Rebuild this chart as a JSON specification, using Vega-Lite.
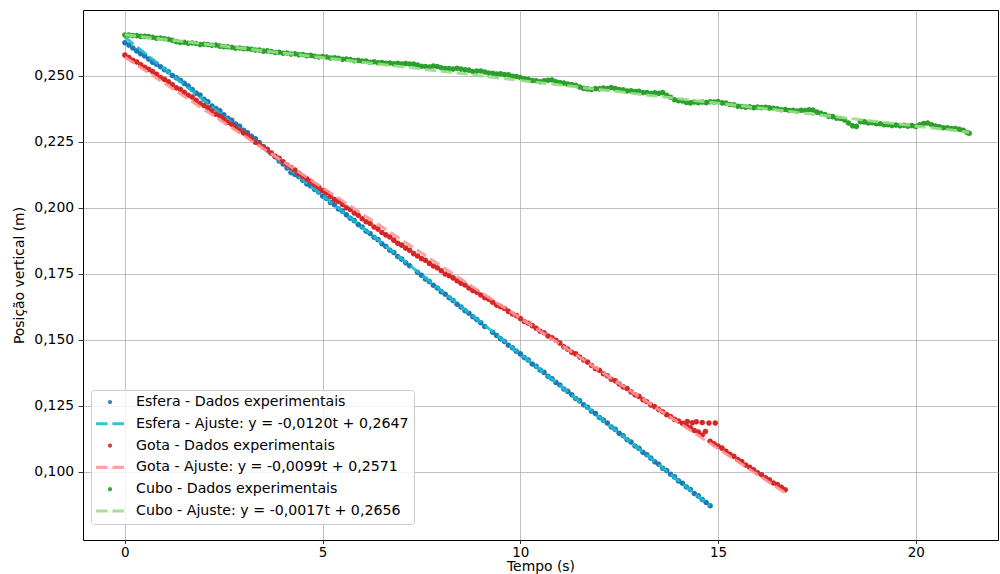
{
"$schema":"https://vega.github.io/schema/vega-lite/v6.json",
"width":915,"height":530,"autosize":"none",
"padding":{"left":83,"top":10,"right":2,"bottom":34},
"background":"white",
"config":{"view":{"stroke":"#000","strokeWidth":1},"font":"DejaVu Sans",
"axis":{"grid":true,"gridColor":"#b0b0b0","gridWidth":0.8,"domain":false,"tickColor":"#000","tickWidth":0.8,"tickSize":4.9,"labelPadding":4.5,"labelFont":"DejaVu Sans","labelFontSize":13.9,"labelColor":"#000","titleFont":"DejaVu Sans","titleFontSize":13.9,"titleFontWeight":"normal","titleColor":"#000"}},
"datasets":{
"esfera":[{"t":0,"y":0.2626},{"t":0.1,"y":0.2617},{"t":0.2,"y":0.2606},{"t":0.3,"y":0.2595},{"t":0.4,"y":0.2584},{"t":0.5,"y":0.2576},{"t":0.6,"y":0.2564},{"t":0.7,"y":0.2552},{"t":0.8,"y":0.2544},{"t":0.9,"y":0.2535},{"t":1.0,"y":0.2524},{"t":1.1,"y":0.2516},{"t":1.2,"y":0.2502},{"t":1.3,"y":0.2493},{"t":1.4,"y":0.2484},{"t":1.5,"y":0.2472},{"t":1.6,"y":0.2462},{"t":1.7,"y":0.2449},{"t":1.8,"y":0.2435},{"t":1.9,"y":0.2428},{"t":2.0,"y":0.2412},{"t":2.1,"y":0.2402},{"t":2.2,"y":0.2386},{"t":2.3,"y":0.2377},{"t":2.4,"y":0.2368},{"t":2.5,"y":0.2353},{"t":2.6,"y":0.2340},{"t":2.7,"y":0.2332},{"t":2.8,"y":0.2318},{"t":2.9,"y":0.2309},{"t":3.0,"y":0.2294},{"t":3.1,"y":0.2285},{"t":3.2,"y":0.2271},{"t":3.3,"y":0.2262},{"t":3.4,"y":0.2248},{"t":3.5,"y":0.2233},{"t":3.6,"y":0.2222},{"t":3.7,"y":0.2207},{"t":3.8,"y":0.2194},{"t":3.9,"y":0.2178},{"t":4.0,"y":0.2167},{"t":4.1,"y":0.2151},{"t":4.2,"y":0.2134},{"t":4.3,"y":0.2127},{"t":4.4,"y":0.2118},{"t":4.5,"y":0.2105},{"t":4.6,"y":0.2091},{"t":4.7,"y":0.2083},{"t":4.8,"y":0.2070},{"t":4.9,"y":0.2060},{"t":5.0,"y":0.2045},{"t":5.1,"y":0.2036},{"t":5.2,"y":0.2021},{"t":5.3,"y":0.2012},{"t":5.4,"y":0.1996},{"t":5.5,"y":0.1988},{"t":5.6,"y":0.1974},{"t":5.7,"y":0.1961},{"t":5.8,"y":0.1952},{"t":5.9,"y":0.1937},{"t":6.0,"y":0.1928},{"t":6.1,"y":0.1912},{"t":6.2,"y":0.1903},{"t":6.3,"y":0.1889},{"t":6.4,"y":0.1880},{"t":6.5,"y":0.1864},{"t":6.6,"y":0.1854},{"t":6.7,"y":0.1840},{"t":6.8,"y":0.1831},{"t":6.9,"y":0.1816},{"t":7.0,"y":0.1806},{"t":7.1,"y":0.1792},{"t":7.2,"y":0.1781},{"t":7.4,"y":0.1756},{"t":7.5,"y":0.1745},{"t":7.6,"y":0.1731},{"t":7.7,"y":0.1721},{"t":7.8,"y":0.1707},{"t":7.9,"y":0.1697},{"t":8.0,"y":0.1683},{"t":8.1,"y":0.1673},{"t":8.2,"y":0.1660},{"t":8.3,"y":0.1649},{"t":8.4,"y":0.1635},{"t":8.5,"y":0.1625},{"t":8.6,"y":0.1611},{"t":8.7,"y":0.1601},{"t":8.8,"y":0.1588},{"t":8.9,"y":0.1577},{"t":9.0,"y":0.1565},{"t":9.1,"y":0.1551},{"t":9.3,"y":0.1529},{"t":9.4,"y":0.1517},{"t":9.5,"y":0.1504},{"t":9.6,"y":0.1494},{"t":9.7,"y":0.1480},{"t":9.8,"y":0.1470},{"t":9.9,"y":0.1457},{"t":10.0,"y":0.1447},{"t":10.1,"y":0.1433},{"t":10.2,"y":0.1424},{"t":10.3,"y":0.1409},{"t":10.4,"y":0.1400},{"t":10.5,"y":0.1386},{"t":10.6,"y":0.1377},{"t":10.7,"y":0.1362},{"t":10.8,"y":0.1353},{"t":10.9,"y":0.1339},{"t":11.0,"y":0.1329},{"t":11.1,"y":0.1314},{"t":11.2,"y":0.1305},{"t":11.3,"y":0.1292},{"t":11.4,"y":0.1278},{"t":11.5,"y":0.1269},{"t":11.6,"y":0.1254},{"t":11.7,"y":0.1245},{"t":11.8,"y":0.1230},{"t":11.9,"y":0.1221},{"t":12.0,"y":0.1206},{"t":12.1,"y":0.1196},{"t":12.2,"y":0.1185},{"t":12.3,"y":0.1170},{"t":12.4,"y":0.1161},{"t":12.5,"y":0.1146},{"t":12.6,"y":0.1137},{"t":12.7,"y":0.1122},{"t":12.8,"y":0.1113},{"t":12.9,"y":0.1098},{"t":13.0,"y":0.1089},{"t":13.1,"y":0.1074},{"t":13.2,"y":0.1065},{"t":13.3,"y":0.1052},{"t":13.4,"y":0.1038},{"t":13.5,"y":0.1029},{"t":13.6,"y":0.1014},{"t":13.7,"y":0.1005},{"t":13.8,"y":0.0991},{"t":13.9,"y":0.0981},{"t":14.0,"y":0.0966},{"t":14.1,"y":0.0957},{"t":14.2,"y":0.0943},{"t":14.3,"y":0.0933},{"t":14.4,"y":0.0918},{"t":14.5,"y":0.0909},{"t":14.6,"y":0.0895},{"t":14.7,"y":0.0884},{"t":14.8,"y":0.0872}],
"gota":[{"t":0,"y":0.2579},{"t":0.1,"y":0.2570},{"t":0.2,"y":0.2559},{"t":0.3,"y":0.2553},{"t":0.4,"y":0.2542},{"t":0.5,"y":0.2533},{"t":0.6,"y":0.2525},{"t":0.7,"y":0.2517},{"t":0.8,"y":0.2506},{"t":0.9,"y":0.2494},{"t":1.0,"y":0.2487},{"t":1.1,"y":0.2478},{"t":1.2,"y":0.2467},{"t":1.3,"y":0.2455},{"t":1.4,"y":0.2450},{"t":1.5,"y":0.2438},{"t":1.6,"y":0.2427},{"t":1.7,"y":0.2420},{"t":1.8,"y":0.2408},{"t":1.9,"y":0.2396},{"t":2.0,"y":0.2388},{"t":2.1,"y":0.2379},{"t":2.2,"y":0.2367},{"t":2.3,"y":0.2355},{"t":2.4,"y":0.2348},{"t":2.5,"y":0.2336},{"t":2.6,"y":0.2324},{"t":2.7,"y":0.2317},{"t":2.8,"y":0.2305},{"t":2.9,"y":0.2293},{"t":3.0,"y":0.2284},{"t":3.1,"y":0.2275},{"t":3.2,"y":0.2262},{"t":3.3,"y":0.2249},{"t":3.4,"y":0.2241},{"t":3.5,"y":0.2230},{"t":3.6,"y":0.2221},{"t":3.7,"y":0.2208},{"t":3.8,"y":0.2196},{"t":3.9,"y":0.2188},{"t":4.0,"y":0.2175},{"t":4.1,"y":0.2163},{"t":4.2,"y":0.2153},{"t":4.3,"y":0.2144},{"t":4.4,"y":0.2131},{"t":4.5,"y":0.2119},{"t":4.6,"y":0.2110},{"t":4.7,"y":0.2101},{"t":4.8,"y":0.2088},{"t":4.9,"y":0.2078},{"t":5.0,"y":0.2066},{"t":5.1,"y":0.2057},{"t":5.2,"y":0.2044},{"t":5.3,"y":0.2032},{"t":5.4,"y":0.2025},{"t":5.5,"y":0.2013},{"t":5.6,"y":0.2001},{"t":5.7,"y":0.1994},{"t":5.8,"y":0.1981},{"t":5.9,"y":0.1972},{"t":6.0,"y":0.1959},{"t":6.1,"y":0.1948},{"t":6.2,"y":0.1941},{"t":6.3,"y":0.1928},{"t":6.4,"y":0.1920},{"t":6.5,"y":0.1907},{"t":6.6,"y":0.1898},{"t":6.7,"y":0.1890},{"t":6.8,"y":0.1878},{"t":6.9,"y":0.1866},{"t":7.0,"y":0.1859},{"t":7.1,"y":0.1848},{"t":7.2,"y":0.1840},{"t":7.3,"y":0.1827},{"t":7.4,"y":0.1818},{"t":7.5,"y":0.1808},{"t":7.6,"y":0.1802},{"t":7.7,"y":0.1790},{"t":7.8,"y":0.1780},{"t":7.9,"y":0.1773},{"t":8.0,"y":0.1762},{"t":8.1,"y":0.1750},{"t":8.2,"y":0.1743},{"t":8.3,"y":0.1735},{"t":8.4,"y":0.1724},{"t":8.5,"y":0.1715},{"t":8.6,"y":0.1708},{"t":8.7,"y":0.1697},{"t":8.8,"y":0.1687},{"t":8.9,"y":0.1681},{"t":9.0,"y":0.1670},{"t":9.1,"y":0.1660},{"t":9.2,"y":0.1654},{"t":9.3,"y":0.1643},{"t":9.4,"y":0.1632},{"t":9.5,"y":0.1626},{"t":9.6,"y":0.1619},{"t":9.7,"y":0.1608},{"t":9.8,"y":0.1598},{"t":9.9,"y":0.1592},{"t":10.0,"y":0.1581},{"t":10.1,"y":0.1570},{"t":10.2,"y":0.1563},{"t":10.3,"y":0.1554},{"t":10.4,"y":0.1544},{"t":10.5,"y":0.1533},{"t":10.6,"y":0.1527},{"t":10.7,"y":0.1515},{"t":10.8,"y":0.1508},{"t":10.9,"y":0.1499},{"t":11.0,"y":0.1488},{"t":11.1,"y":0.1474},{"t":11.2,"y":0.1465},{"t":11.3,"y":0.1453},{"t":11.4,"y":0.1447},{"t":11.5,"y":0.1435},{"t":11.6,"y":0.1424},{"t":11.7,"y":0.1416},{"t":11.8,"y":0.1403},{"t":11.9,"y":0.1391},{"t":12.0,"y":0.1385},{"t":12.1,"y":0.1372},{"t":12.2,"y":0.1364},{"t":12.3,"y":0.1351},{"t":12.4,"y":0.1345},{"t":12.5,"y":0.1333},{"t":12.6,"y":0.1322},{"t":12.7,"y":0.1316},{"t":12.8,"y":0.1303},{"t":12.9,"y":0.1292},{"t":13.0,"y":0.1286},{"t":13.1,"y":0.1273},{"t":13.2,"y":0.1266},{"t":13.3,"y":0.1253},{"t":13.4,"y":0.1247},{"t":13.5,"y":0.1236},{"t":13.6,"y":0.1228},{"t":13.7,"y":0.1217},{"t":13.8,"y":0.1210},{"t":13.9,"y":0.1199},{"t":14.0,"y":0.1193},{"t":14.1,"y":0.1184},{"t":14.2,"y":0.1175},{"t":14.3,"y":0.1167},{"t":14.4,"y":0.1157},{"t":14.5,"y":0.1151},{"t":14.6,"y":0.1140},{"t":14.8,"y":0.1116},{"t":14.9,"y":0.1106},{"t":15.0,"y":0.1098},{"t":15.1,"y":0.1090},{"t":15.2,"y":0.1078},{"t":15.3,"y":0.1067},{"t":15.4,"y":0.1059},{"t":15.5,"y":0.1047},{"t":15.6,"y":0.1039},{"t":15.7,"y":0.1026},{"t":15.8,"y":0.1017},{"t":15.9,"y":0.1008},{"t":16.0,"y":0.0997},{"t":16.1,"y":0.0989},{"t":16.2,"y":0.0978},{"t":16.3,"y":0.0970},{"t":16.4,"y":0.0958},{"t":16.5,"y":0.0952},{"t":16.6,"y":0.0942},{"t":16.7,"y":0.0932},{"t":14.22,"y":0.1191},{"t":14.35,"y":0.1186},{"t":14.45,"y":0.1190},{"t":14.6,"y":0.1187},{"t":14.68,"y":0.1153},{"t":14.77,"y":0.1185},{"t":14.93,"y":0.1185}],
"cubo":[{"t":0,"y":0.2655},{"t":0.1,"y":0.2655},{"t":0.2,"y":0.2653},{"t":0.3,"y":0.2653},{"t":0.4,"y":0.2650},{"t":0.5,"y":0.2650},{"t":0.6,"y":0.2649},{"t":0.7,"y":0.2647},{"t":0.8,"y":0.2643},{"t":0.9,"y":0.2644},{"t":1.0,"y":0.2641},{"t":1.1,"y":0.2639},{"t":1.2,"y":0.2635},{"t":1.3,"y":0.2630},{"t":1.4,"y":0.2627},{"t":1.5,"y":0.2628},{"t":1.6,"y":0.2624},{"t":1.7,"y":0.2625},{"t":1.8,"y":0.2623},{"t":1.9,"y":0.2619},{"t":2.0,"y":0.2620},{"t":2.1,"y":0.2619},{"t":2.2,"y":0.2616},{"t":2.3,"y":0.2617},{"t":2.4,"y":0.2613},{"t":2.5,"y":0.2611},{"t":2.6,"y":0.2611},{"t":2.7,"y":0.2609},{"t":2.8,"y":0.2605},{"t":2.9,"y":0.2606},{"t":3.0,"y":0.2603},{"t":3.1,"y":0.2603},{"t":3.2,"y":0.2601},{"t":3.3,"y":0.2598},{"t":3.4,"y":0.2598},{"t":3.5,"y":0.2594},{"t":3.6,"y":0.2595},{"t":3.7,"y":0.2593},{"t":3.8,"y":0.2589},{"t":3.9,"y":0.2590},{"t":4.0,"y":0.2586},{"t":4.1,"y":0.2587},{"t":4.2,"y":0.2583},{"t":4.3,"y":0.2584},{"t":4.4,"y":0.2580},{"t":4.5,"y":0.2581},{"t":4.6,"y":0.2577},{"t":4.7,"y":0.2578},{"t":4.8,"y":0.2575},{"t":4.9,"y":0.2572},{"t":5.0,"y":0.2574},{"t":5.1,"y":0.2572},{"t":5.2,"y":0.2568},{"t":5.3,"y":0.2569},{"t":5.4,"y":0.2567},{"t":5.5,"y":0.2563},{"t":5.6,"y":0.2564},{"t":5.7,"y":0.2562},{"t":5.8,"y":0.2558},{"t":5.9,"y":0.2559},{"t":6.0,"y":0.2557},{"t":6.1,"y":0.2557},{"t":6.2,"y":0.2552},{"t":6.3,"y":0.2554},{"t":6.4,"y":0.2550},{"t":6.5,"y":0.2551},{"t":6.6,"y":0.2548},{"t":6.7,"y":0.2549},{"t":6.8,"y":0.2546},{"t":6.9,"y":0.2548},{"t":7.0,"y":0.2545},{"t":7.1,"y":0.2547},{"t":7.2,"y":0.2545},{"t":7.3,"y":0.2545},{"t":7.4,"y":0.2541},{"t":7.5,"y":0.2537},{"t":7.6,"y":0.2536},{"t":7.7,"y":0.2534},{"t":7.8,"y":0.2538},{"t":7.9,"y":0.2536},{"t":8.0,"y":0.2531},{"t":8.1,"y":0.2528},{"t":8.2,"y":0.2528},{"t":8.3,"y":0.2526},{"t":8.4,"y":0.2529},{"t":8.5,"y":0.2526},{"t":8.6,"y":0.2523},{"t":8.7,"y":0.2522},{"t":8.8,"y":0.2517},{"t":8.9,"y":0.2519},{"t":9.0,"y":0.2519},{"t":9.1,"y":0.2515},{"t":9.2,"y":0.2511},{"t":9.3,"y":0.2510},{"t":9.4,"y":0.2507},{"t":9.5,"y":0.2508},{"t":9.6,"y":0.2505},{"t":9.7,"y":0.2504},{"t":9.8,"y":0.2499},{"t":9.9,"y":0.2498},{"t":10.0,"y":0.2494},{"t":10.1,"y":0.2489},{"t":10.2,"y":0.2487},{"t":10.3,"y":0.2483},{"t":10.4,"y":0.2482},{"t":10.5,"y":0.2478},{"t":10.6,"y":0.2482},{"t":10.7,"y":0.2484},{"t":10.8,"y":0.2485},{"t":10.9,"y":0.2478},{"t":11.0,"y":0.2475},{"t":11.1,"y":0.2473},{"t":11.2,"y":0.2469},{"t":11.3,"y":0.2468},{"t":11.4,"y":0.2465},{"t":11.5,"y":0.2458},{"t":11.6,"y":0.2453},{"t":11.7,"y":0.2451},{"t":11.8,"y":0.2449},{"t":11.9,"y":0.2452},{"t":12.0,"y":0.2451},{"t":12.1,"y":0.2454},{"t":12.2,"y":0.2452},{"t":12.3,"y":0.2456},{"t":12.4,"y":0.2452},{"t":12.5,"y":0.2449},{"t":12.6,"y":0.2448},{"t":12.7,"y":0.2443},{"t":12.8,"y":0.2444},{"t":12.9,"y":0.2441},{"t":13.0,"y":0.2442},{"t":13.1,"y":0.2437},{"t":13.2,"y":0.2437},{"t":13.3,"y":0.2433},{"t":13.4,"y":0.2436},{"t":13.5,"y":0.2434},{"t":13.6,"y":0.2437},{"t":13.7,"y":0.2427},{"t":13.8,"y":0.2419},{"t":13.9,"y":0.2410},{"t":14.0,"y":0.2406},{"t":14.1,"y":0.2405},{"t":14.2,"y":0.2400},{"t":14.3,"y":0.2398},{"t":14.4,"y":0.2401},{"t":14.5,"y":0.2399},{"t":14.6,"y":0.2401},{"t":14.7,"y":0.2399},{"t":14.8,"y":0.2402},{"t":14.9,"y":0.2401},{"t":15.0,"y":0.2403},{"t":15.1,"y":0.2398},{"t":15.2,"y":0.2397},{"t":15.3,"y":0.2392},{"t":15.4,"y":0.2391},{"t":15.5,"y":0.2385},{"t":15.6,"y":0.2384},{"t":15.7,"y":0.2382},{"t":15.8,"y":0.2383},{"t":15.9,"y":0.2380},{"t":16.0,"y":0.2382},{"t":16.1,"y":0.2380},{"t":16.2,"y":0.2381},{"t":16.3,"y":0.2379},{"t":16.4,"y":0.2378},{"t":16.5,"y":0.2376},{"t":16.6,"y":0.2372},{"t":16.7,"y":0.2373},{"t":16.8,"y":0.2369},{"t":16.9,"y":0.2370},{"t":17.0,"y":0.2367},{"t":17.1,"y":0.2370},{"t":17.2,"y":0.2369},{"t":17.3,"y":0.2372},{"t":17.4,"y":0.2371},{"t":17.5,"y":0.2363},{"t":17.6,"y":0.2359},{"t":17.7,"y":0.2354},{"t":17.8,"y":0.2347},{"t":17.9,"y":0.2346},{"t":18.0,"y":0.2340},{"t":18.1,"y":0.2339},{"t":18.2,"y":0.2333},{"t":18.3,"y":0.2322},{"t":18.4,"y":0.2311},{"t":18.5,"y":0.2309},{"t":18.6,"y":0.2327},{"t":18.7,"y":0.2326},{"t":18.8,"y":0.2322},{"t":18.9,"y":0.2323},{"t":19.0,"y":0.2319},{"t":19.1,"y":0.2319},{"t":19.2,"y":0.2315},{"t":19.3,"y":0.2315},{"t":19.4,"y":0.2312},{"t":19.5,"y":0.2314},{"t":19.6,"y":0.2311},{"t":19.7,"y":0.2313},{"t":19.8,"y":0.2310},{"t":19.9,"y":0.2312},{"t":20.0,"y":0.2309},{"t":20.1,"y":0.2315},{"t":20.2,"y":0.2320},{"t":20.3,"y":0.2322},{"t":20.4,"y":0.2315},{"t":20.5,"y":0.2310},{"t":20.6,"y":0.2307},{"t":20.7,"y":0.2304},{"t":20.8,"y":0.2304},{"t":20.9,"y":0.2301},{"t":21.0,"y":0.2301},{"t":21.1,"y":0.2298},{"t":21.2,"y":0.2294},{"t":21.3,"y":0.2286},{"t":21.35,"y":0.2283}],
"fitEsfera":[{"t":0,"y":0.2647},{"t":14.8,"y":0.0871}],
"fitGota":[{"t":0,"y":0.2571},{"t":16.7,"y":0.0920}],
"fitCubo":[{"t":0,"y":0.2656},{"t":21.35,"y":0.2287}]
},
"encoding":{
"x":{"field":"t","type":"quantitative","scale":{"domain":[-1.06,22.08],"nice":false,"zero":false},"axis":{"title":"Tempo (s)","values":[0,5,10,15,20],"tickSize":3.5,"labelPadding":1.5,"labelFontSize":13.5,"titlePadding":1}},
"y":{"field":"y","type":"quantitative","scale":{"domain":[0.0742,0.275],"nice":false,"zero":false},"axis":{"title":"Posição vertical (m)","values":[0.1,0.125,0.15,0.175,0.2,0.225,0.25],"labelExpr":"replace(format(datum.value, '.3f'), '.', ',')","titlePadding":7}}
},
"layer":[
{"data":{"name":"esfera"},"mark":{"type":"point","filled":true,"size":1400,"opacity":1,"strokeWidth":0},
"encoding":{
"color":{"datum":"Esfera - Dados experimentais","type":"nominal",
"scale":{"domain":["Esfera - Dados experimentais","Esfera - Ajuste: y = -0,0120t + 0,2647","Gota - Dados experimentais","Gota - Ajuste: y = -0,0099t + 0,2571","Cubo - Dados experimentais","Cubo - Ajuste: y = -0,0017t + 0,2656"],"range":["#1f77b4","#17becf","#d62728","#ff9896","#2ca02c","#98df8a"]},
"legend":{"title":null,"orient":"none","legendX":8,"legendY":380,"symbolSize":784,"symbolStrokeWidth":0,"symbolOpacity":1,"clipHeight":14,"rowPadding":6.8,"labelFontSize":14.2,"labelFont":"DejaVu Sans","labelColor":"#000","labelOffset":12,"labelLimit":400,"padding":5,"fillColor":"rgba(255,255,255,0.8)","strokeColor":"#cccccc","cornerRadius":3}},
"shape":{"datum":"Esfera - Dados experimentais","type":"nominal",
"scale":{"domain":["Esfera - Dados experimentais","Esfera - Ajuste: y = -0,0120t + 0,2647","Gota - Dados experimentais","Gota - Ajuste: y = -0,0099t + 0,2571","Cubo - Dados experimentais","Cubo - Ajuste: y = -0,0017t + 0,2656"],
"range":["M0.15,0A0.15,0.15,0,1,1,-0.15,0A0.15,0.15,0,1,1,0.15,0Z","M-1,-0.11H-0.17V0.11H-1ZM0.17,-0.11H1V0.11H0.17Z","M0.15,0A0.15,0.15,0,1,1,-0.15,0A0.15,0.15,0,1,1,0.15,0Z","M-1,-0.11H-0.17V0.11H-1ZM0.17,-0.11H1V0.11H0.17Z","M0.15,0A0.15,0.15,0,1,1,-0.15,0A0.15,0.15,0,1,1,0.15,0Z","M-1,-0.11H-0.17V0.11H-1ZM0.17,-0.11H1V0.11H0.17Z"]},
"legend":{"title":null,"orient":"none","legendX":8,"legendY":380,"symbolSize":784,"symbolStrokeWidth":0,"symbolOpacity":1,"clipHeight":14,"rowPadding":6.8,"labelFontSize":14.2,"labelFont":"DejaVu Sans","labelColor":"#000","labelOffset":12,"labelLimit":400,"padding":5,"fillColor":"rgba(255,255,255,0.8)","strokeColor":"#cccccc","cornerRadius":3}}}},
{"data":{"name":"fitEsfera"},"mark":{"type":"line","strokeWidth":3,"strokeDash":[11.1,4.8],"opacity":0.9},
"encoding":{"color":{"datum":"Esfera - Ajuste: y = -0,0120t + 0,2647","type":"nominal"}}},
{"data":{"name":"gota"},"mark":{"type":"point","filled":true,"size":1400,"opacity":1,"strokeWidth":0},
"encoding":{"color":{"datum":"Gota - Dados experimentais","type":"nominal"},"shape":{"datum":"Gota - Dados experimentais","type":"nominal"}}},
{"data":{"name":"fitGota"},"mark":{"type":"line","strokeWidth":3,"strokeDash":[11.1,4.8],"opacity":0.9},
"encoding":{"color":{"datum":"Gota - Ajuste: y = -0,0099t + 0,2571","type":"nominal"}}},
{"data":{"name":"cubo"},"mark":{"type":"point","filled":true,"size":1400,"opacity":1,"strokeWidth":0},
"encoding":{"color":{"datum":"Cubo - Dados experimentais","type":"nominal"},"shape":{"datum":"Cubo - Dados experimentais","type":"nominal"}}},
{"data":{"name":"fitCubo"},"mark":{"type":"line","strokeWidth":3,"strokeDash":[11.1,4.8],"opacity":0.9},
"encoding":{"color":{"datum":"Cubo - Ajuste: y = -0,0017t + 0,2656","type":"nominal"}}}
]
}
